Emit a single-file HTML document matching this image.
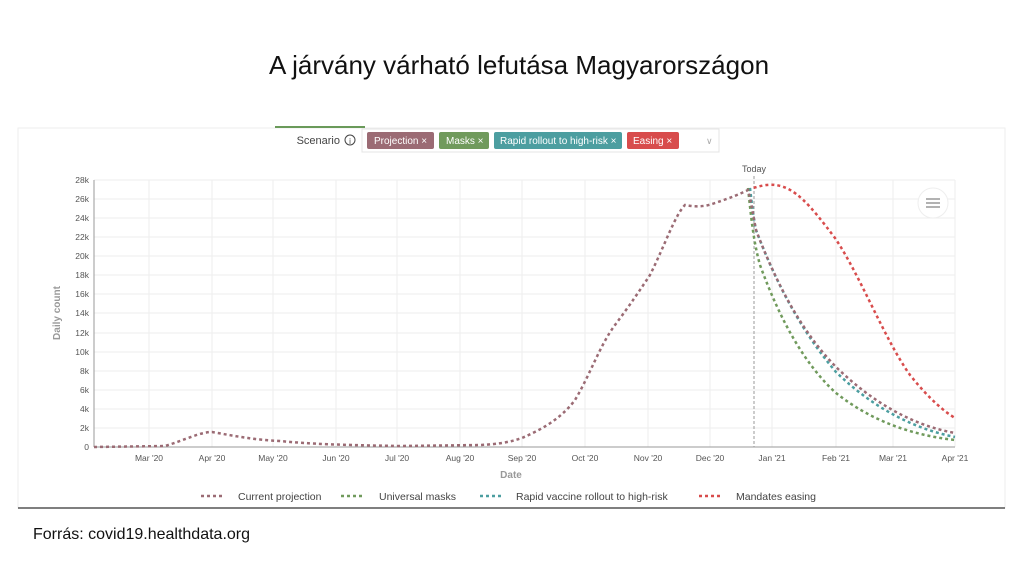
<!DOCTYPE html><html><head><style>body{margin:0;background:#fff}svg text{font-family:"Liberation Sans",sans-serif}</style></head><body>
<svg width="1024" height="576" xmlns="http://www.w3.org/2000/svg">
<rect width="1024" height="576" fill="#fff"/>
<text x="519" y="74" font-size="26" text-anchor="middle" fill="#111">A járvány várható lefutása Magyarországon</text>
<rect x="18" y="128" width="987" height="380" fill="#fff" stroke="#eee"/>
<line x1="18" y1="508" x2="1005" y2="508" stroke="#555" stroke-width="1.5"/>
<line x1="275" y1="127" x2="365" y2="127" stroke="#6a9a5a" stroke-width="2"/>
<text x="33" y="539" font-size="16" fill="#111" style="font-family:'Liberation Sans',sans-serif">Forrás: covid19.healthdata.org</text>
<text x="340" y="144" font-size="11" fill="#444" text-anchor="end">Scenario</text>
<circle cx="350" cy="140" r="5" fill="none" stroke="#444"/><text x="350" y="144" font-size="8" text-anchor="middle" fill="#444">i</text>
<rect x="362" y="129" width="357" height="23" fill="#fff" stroke="#e4e4e4"/>
<rect x="367" y="132" width="67" height="17" rx="2" fill="#9b6b74"/><text x="374" y="144" font-size="10" fill="#fff">Projection ×</text>
<rect x="439" y="132" width="50" height="17" rx="2" fill="#709a5c"/><text x="446" y="144" font-size="10" fill="#fff">Masks ×</text>
<rect x="494" y="132" width="128" height="17" rx="2" fill="#4c9ea0"/><text x="500" y="144" font-size="10" fill="#fff">Rapid rollout to high-risk ×</text>
<rect x="627" y="132" width="52" height="17" rx="2" fill="#d84c4c"/><text x="633" y="144" font-size="10" fill="#fff">Easing ×</text>
<text x="706" y="144" font-size="9" fill="#aaa">∨</text>
<g stroke="#eee" stroke-width="1">
<line x1="94" y1="180" x2="955" y2="180"/><line x1="94" y1="199" x2="955" y2="199"/><line x1="94" y1="218" x2="955" y2="218"/><line x1="94" y1="237" x2="955" y2="237"/><line x1="94" y1="256" x2="955" y2="256"/><line x1="94" y1="275" x2="955" y2="275"/><line x1="94" y1="294" x2="955" y2="294"/><line x1="94" y1="313" x2="955" y2="313"/><line x1="94" y1="333" x2="955" y2="333"/><line x1="94" y1="352" x2="955" y2="352"/><line x1="94" y1="371" x2="955" y2="371"/><line x1="94" y1="390" x2="955" y2="390"/><line x1="94" y1="409" x2="955" y2="409"/><line x1="94" y1="428" x2="955" y2="428"/>
<line x1="149" y1="180" x2="149" y2="447"/><line x1="212" y1="180" x2="212" y2="447"/><line x1="273" y1="180" x2="273" y2="447"/><line x1="336" y1="180" x2="336" y2="447"/><line x1="397" y1="180" x2="397" y2="447"/><line x1="460" y1="180" x2="460" y2="447"/><line x1="522" y1="180" x2="522" y2="447"/><line x1="585" y1="180" x2="585" y2="447"/><line x1="648" y1="180" x2="648" y2="447"/><line x1="710" y1="180" x2="710" y2="447"/><line x1="772" y1="180" x2="772" y2="447"/><line x1="836" y1="180" x2="836" y2="447"/><line x1="893" y1="180" x2="893" y2="447"/><line x1="955" y1="180" x2="955" y2="447"/>
</g>
<line x1="94" y1="180" x2="94" y2="447" stroke="#999"/><line x1="94" y1="447" x2="955" y2="447" stroke="#999"/>
<g font-size="8.5" fill="#555" text-anchor="end">
<text x="89" y="183">28k</text><text x="89" y="202">26k</text><text x="89" y="221">24k</text><text x="89" y="240">22k</text><text x="89" y="259">20k</text><text x="89" y="278">18k</text><text x="89" y="297">16k</text><text x="89" y="316">14k</text><text x="89" y="336">12k</text><text x="89" y="355">10k</text><text x="89" y="374">8k</text><text x="89" y="393">6k</text><text x="89" y="412">4k</text><text x="89" y="431">2k</text><text x="89" y="450">0</text>
</g>
<g font-size="8.5" fill="#555" text-anchor="middle">
<text x="149" y="461">Mar '20</text><text x="212" y="461">Apr '20</text><text x="273" y="461">May '20</text><text x="336" y="461">Jun '20</text><text x="397" y="461">Jul '20</text><text x="460" y="461">Aug '20</text><text x="522" y="461">Sep '20</text><text x="585" y="461">Oct '20</text><text x="648" y="461">Nov '20</text><text x="710" y="461">Dec '20</text><text x="772" y="461">Jan '21</text><text x="836" y="461">Feb '21</text><text x="893" y="461">Mar '21</text><text x="955" y="461">Apr '21</text>
</g>
<text x="511" y="478" font-size="10" fill="#999" text-anchor="middle" font-weight="bold">Date</text>
<text transform="translate(60,313) rotate(-90)" font-size="10" fill="#999" text-anchor="middle" font-weight="bold">Daily count</text>
<line x1="754" y1="176" x2="754" y2="447" stroke="#999" stroke-dasharray="3,2"/>
<text x="754" y="172" font-size="9" fill="#555" text-anchor="middle">Today</text>
<circle cx="933" cy="203" r="15" fill="#fff" stroke="#eee"/>
<g stroke="#666" stroke-width="1"><line x1="926" y1="199" x2="940" y2="199"/><line x1="926" y1="203" x2="940" y2="203"/><line x1="926" y1="207" x2="940" y2="207"/></g>
<g fill="none" stroke-width="2.5" stroke-dasharray="3,3">
<path stroke="#d84c4c" d="M748 190 C758 186 768 184 775 185 C795 187 810 205 835 238 C860 275 885 340 910 375 C930 400 945 412 955 418"/>
<path stroke="#4c9ea0" d="M750 188 C752 205 753 215 756 230 C775 280 800 330 836 372 C870 405 910 428 955 437"/>
<path stroke="#709a5c" d="M748 188 C751 215 753 240 760 265 C780 320 805 365 836 393 C870 420 910 435 955 440"/>
<path stroke="#9b6b74" d="M94 447 L165 446 C185 440 200 432 212 432 C235 436 255 440 280 441 C310 444 340 445 400 446 L480 445 C500 444 510 442 522 438 C540 430 560 420 575 400 C590 375 600 345 615 325 C630 305 640 290 650 275 C665 245 675 215 685 205 C695 207 705 207 715 203 C730 198 740 194 748 190 C752 205 753 215 756 230 C775 280 800 330 836 367 C870 400 910 425 955 433"/>
</g>
<g stroke-width="2.5" stroke-dasharray="3,3">
<line x1="201" y1="496" x2="223" y2="496" stroke="#9b6b74"/><line x1="341" y1="496" x2="363" y2="496" stroke="#709a5c"/><line x1="480" y1="496" x2="502" y2="496" stroke="#4c9ea0"/><line x1="699" y1="496" x2="721" y2="496" stroke="#d84c4c"/>
</g>
<g font-size="10.5" fill="#444"><text x="238" y="500">Current projection</text><text x="379" y="500">Universal masks</text><text x="516" y="500">Rapid vaccine rollout to high-risk</text><text x="736" y="500">Mandates easing</text></g>
</svg></body></html>
